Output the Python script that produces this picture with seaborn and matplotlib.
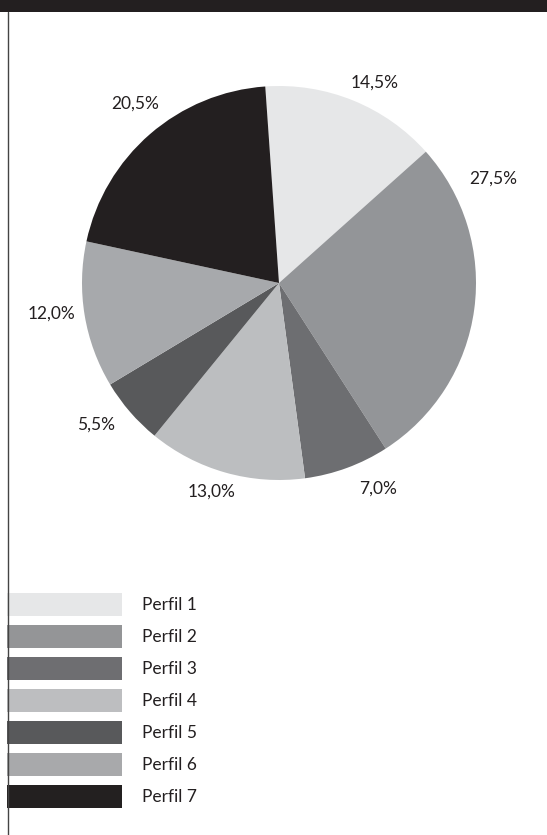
import matplotlib
matplotlib.use("Agg")
import matplotlib.pyplot as plt
import seaborn as sns
from matplotlib.patches import Rectangle
from matplotlib.lines import Line2D
from matplotlib.transforms import blended_transform_factory

# Share of each profile (%)
perfis = ["Perfil 1", "Perfil 2", "Perfil 3", "Perfil 4", "Perfil 5", "Perfil 6", "Perfil 7"]
valores = [14.5, 27.5, 7.0, 13.0, 5.5, 12.0, 20.5]
cores = ["#e6e7e8", "#939598", "#6d6e71", "#bcbec0", "#58595b", "#a7a9ac", "#231f20"]

# Where each percentage label sits around the pie (in pie-radius units)
label_pos = [(0.487, 1.015), (1.086, 0.528), (0.503, -1.046), (-0.340, -1.061),
             (-0.929, -0.721), (-1.157, -0.157), (-0.731, 0.909)]

sns.set_theme(style="white")
plt.rcParams["font.family"] = ["Lato", "DejaVu Sans"]
TXT = "#231f20"
FS = 12.5

W, H = 547, 835
fig = plt.figure(figsize=(W / 100, H / 100), dpi=100)
fig.patch.set_facecolor("white")

# Top band and left rule
fig.add_artist(Rectangle((0, 1 - 12 / H), 1, 12 / H, transform=fig.transFigure,
                         facecolor="#231f20", edgecolor="none"))
fig.add_artist(Line2D([7.5 / W, 7.5 / W], [0, 1 - 12 / H], transform=fig.transFigure,
                      color="#444444", lw=1.0))

# Pie
cx, cy, R = 279, 283, 197
ax = fig.add_axes([(cx - R) / W, 1 - (cy + R) / H, 2 * R / W, 2 * R / H])
wedges, _ = ax.pie(valores, colors=cores, startangle=94, counterclock=False,
                   wedgeprops=dict(linewidth=0))
ax.set_xlim(-1, 1)
ax.set_ylim(-1, 1)
ax.axis("off")
for v, (x, y) in zip(valores, label_pos):
    ax.text(x, y, f"{v:.1f}".replace(".", ",") + "%", ha="center", va="center",
            fontsize=FS, color=TXT, clip_on=False)

# Legend swatches drawn as bars
lax = fig.add_axes([7 / W, 1 - 812.5 / H, 115 / W, 224 / H])
sns.barplot(x=[1] * len(perfis), y=perfis, hue=perfis, palette=cores, orient="h",
            width=23 / 32, linewidth=0, legend=False, ax=lax)
lax.set_xlim(0, 1)
lax.set_ylim(len(perfis) - 0.5, -0.5)
lax.axis("off")
tr = blended_transform_factory(fig.transFigure, lax.transData)
for i, nome in enumerate(perfis):
    lax.text(142 / W, i, nome, transform=tr, ha="left", va="center",
             fontsize=FS, color=TXT, clip_on=False)

fig.savefig("out.png", dpi=100, facecolor="white")
